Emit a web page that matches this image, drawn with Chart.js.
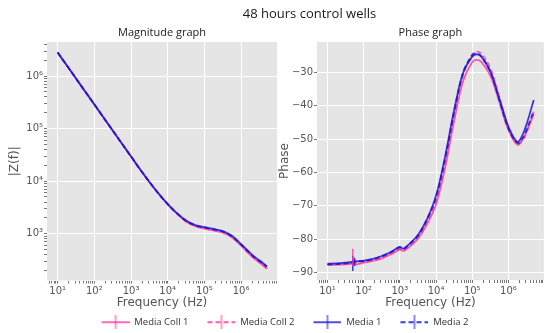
<!DOCTYPE html>
<html>
<head>
<meta charset="utf-8">
<title>48 hours control wells</title>
<script src="https://cdn.jsdelivr.net/npm/chart.js@4.4.1/dist/chart.umd.min.js"></script>
<style>
  html, body { margin: 0; padding: 0; background: #fff; overflow: hidden; }
  #wrap { position: relative; width: 545px; height: 333px; overflow: hidden; }
  #magChart { position: absolute; left: 0; top: 0; }
  #phaseChart { position: absolute; left: 74px; top: 0; }
</style>
</head>
<body>
<div id="wrap">
  <canvas id="magChart" width="558" height="337"></canvas>
  <canvas id="phaseChart" width="471" height="310"></canvas>
</div>
<script>
// Frequency sweep (Hz)
const freq = [10, 18, 32, 50, 56, 100, 178, 316, 562, 800, 1000, 1260, 1780, 3160, 5620,
    10000, 17800, 31600, 56200, 100000, 133000, 178000, 316000, 562000, 1000000,
    1780000, 2510000, 3160000, 5000000];

// |Z(f)| in ohms
const magColl1 = [2.83e6, 1.59e6, 8.95e5, 5.75e5, 5.15e5, 2.90e5, 1.63e5, 9.25e4, 5.23e4, 3.69e4,
    2.96e4, 2.35e4, 1.67e4, 9600, 5780, 3630, 2400, 1690, 1385, 1245, 1195, 1150, 1050, 850,
    590, 390, 318, 282, 214];
const magColl2 = [2.82e6, 1.58e6, 8.90e5, 5.72e5, 5.12e5, 2.89e5, 1.625e5, 9.20e4, 5.21e4, 3.68e4,
    2.955e4, 2.345e4, 1.665e4, 9620, 5800, 3650, 2420, 1720, 1420, 1280, 1230, 1180, 1075, 875,
    605, 400, 328, 292, 226];
const magMedia1 = [2.80e6, 1.57e6, 8.87e5, 5.70e5, 5.10e5, 2.87e5, 1.62e5, 9.18e4, 5.20e4, 3.67e4,
    2.95e4, 2.34e4, 1.66e4, 9660, 5820, 3670, 2455, 1780, 1460, 1333, 1280, 1230, 1120, 912,
    631, 427, 347, 309, 240];
const magMedia2 = [2.81e6, 1.575e6, 8.90e5, 5.71e5, 5.11e5, 2.88e5, 1.62e5, 9.20e4, 5.20e4, 3.67e4,
    2.95e4, 2.34e4, 1.66e4, 9640, 5810, 3660, 2445, 1765, 1445, 1315, 1260, 1210, 1100, 895,
    620, 418, 338, 302, 236];

// Phase in degrees
const phaseColl1 = [-87.7, -87.6, -87.5, -87.3, -87.6, -87.0, -86.5, -85.7, -84.5, -83.6,
    -83.1, -83.5, -82.4, -79.8, -75.5, -69.5, -58.5, -44.5, -32.5, -26.9, -26.3, -26.9,
    -31.0, -39.0, -47.3, -51.7, -50.0, -47.8, -42.5];
const phaseColl2 = [-87.6, -87.5, -87.3, -87.1, -87.2, -86.8, -86.3, -85.5, -84.3, -83.4,
    -82.9, -83.3, -82.1, -79.4, -74.8, -68.5, -57.0, -43.0, -30.6, -24.6, -23.8, -24.4,
    -28.8, -37.5, -46.5, -51.5, -50.2, -48.0, -41.8];
const phaseMedia1 = [-87.3, -87.2, -87.0, -86.8, -86.7, -86.4, -85.9, -85.0, -83.8, -82.8,
    -82.3, -82.8, -81.5, -78.7, -74.0, -66.9, -55.2, -41.3, -30.1, -25.3, -24.6, -25.3,
    -29.8, -37.9, -46.3, -50.8, -48.5, -45.6, -38.3];
const phaseMedia2 = [-87.5, -87.4, -87.2, -87.0, -86.6, -86.5, -86.0, -85.1, -83.9, -82.9,
    -82.4, -82.9, -81.6, -78.9, -74.0, -67.4, -55.8, -41.8, -30.0, -24.9, -24.3, -25.2,
    -29.8, -38.3, -46.9, -51.2, -49.6, -47.3, -41.5];

// Error bars on the phase around the 50 Hz mains glitch
const errSeries = ['Media Coll 1', 'Media 1', 'Media 2'];
const errFreq = [50, 50, 56];
const errLow = [-88.0, -89.5, -88.0];
const errHigh = [-82.8, -85.0, -85.5];

// Tick labels
const freqTicks = [10, 100, 1000, 10000, 100000, 1000000];
const magTicks = [1000, 10000, 100000, 1000000];
const phaseTicks = [-90, -80, -70, -60, -50, -40, -30];

const PINK = 'rgba(255, 51, 153, 0.8)';
const BLUE = 'rgba(25, 25, 215, 0.85)';

const series = [
    { label: 'Media Coll 1', color: PINK, dash: [], mag: magColl1, phase: phaseColl1 },
    { label: 'Media Coll 2', color: PINK, dash: [5, 3], mag: magColl2, phase: phaseColl2 },
    { label: 'Media 1', color: BLUE, dash: [], mag: magMedia1, phase: phaseMedia1 },
    { label: 'Media 2', color: BLUE, dash: [5, 3], mag: magMedia2, phase: phaseMedia2 }
];

Chart.defaults.font.family = 'DejaVu Sans';
Chart.defaults.animation = false;

const SUP = { '0': '⁰', '1': '¹', '2': '²', '3': '³', '4': '⁴', '5': '⁵', '6': '⁶', '7': '⁷', '8': '⁸', '9': '⁹' };
function pow10Label(v) {
    const e = Math.round(Math.log10(v));
    return '10' + String(e).split('').map(d => SUP[d]).join('');
}

function isDecade(tick) {
    if (!tick) return false;
    const l = Math.log10(tick.value);
    return Math.abs(l - Math.round(l)) < 1e-9;
}

// major + minor (2..9) ticks for log axes
function logTicks(scale) {
    const ticks = [];
    const lo = Math.floor(Math.log10(scale.min));
    const hi = Math.ceil(Math.log10(scale.max));
    for (let e = lo; e <= hi; e++) {
        for (let k = 1; k < 10; k++) {
            const v = k * Math.pow(10, e);
            if (v >= scale.min && v <= scale.max) ticks.push({ value: v });
        }
    }
    scale.ticks = ticks;
}

// legend handle: line with a vertical error-bar tick
function legendHandle(color, dash) {
    const c = document.createElement('canvas');
    c.width = 40;
    c.height = 14;
    const g = c.getContext('2d');
    g.strokeStyle = color;
    g.lineWidth = 1.8;
    g.setLineDash(dash);
    g.beginPath();
    g.moveTo(12, 7);
    g.lineTo(40, 7);
    g.stroke();
    g.setLineDash([]);
    g.lineWidth = 1.2;
    g.beginPath();
    g.moveTo(26, 0);
    g.lineTo(26, 14);
    g.stroke();
    return c;
}

const panelBg = {
    id: 'panelBg',
    beforeDraw(chart) {
        const { ctx, chartArea: a } = chart;
        ctx.save();
        ctx.fillStyle = '#e5e5e5';
        ctx.fillRect(a.left, a.top, a.width, a.height);
        ctx.restore();
    }
};

const tickFont = { size: 10 };
const titleFont = { family: 'Open Sans', size: 11, weight: 'normal' };

function freqAxis() {
    return {
        type: 'logarithmic',
        min: 5.13,
        max: 9.5e6,
        afterBuildTicks: logTicks,
        afterFit: s => { s.height = 30; },
        ticks: {
            autoSkip: false,
            maxRotation: 0,
            padding: 2,
            color: '#555',
            font: tickFont,
            callback: v => freqTicks.includes(v) ? pow10Label(v) : ''
        },
        grid: {
            color: c => isDecade(c.tick) ? '#ffffff' : 'rgba(0,0,0,0)',
            tickColor: '#777',
            tickLength: 3,
            lineWidth: 1
        },
        border: { display: false },
        title: { display: true, text: 'Frequency (Hz)', color: '#555', font: { size: 12 }, padding: { top: 0, bottom: 0 } }
    };
}

function lineDataset(s, i, values) {
    return {
        label: s.label,
        data: freq.map((f, j) => ({ x: f, y: values[j] })),
        borderColor: s.color,
        borderDash: s.dash,
        borderWidth: 1.8,
        pointRadius: 0,
        pointStyle: legendHandle(s.color, s.dash),
        tension: 0.35,
        order: series.length - i
    };
}

// Magnitude graph (also carries the shared legend)
const magCtx = document.getElementById('magChart');
if (magCtx) {
    new Chart(magCtx, {
        type: 'line',
        data: {
            datasets: series.map((s, i) => lineDataset(s, i, s.mag))
        },
        options: {
            responsive: false,
            events: [],
            layout: { padding: 0 },
            plugins: {
                title: {
                    display: true,
                    text: 'Magnitude graph',
                    fullSize: false,
                    color: '#222',
                    font: titleFont,
                    padding: { top: 26.4, bottom: 2.4 }
                },
                legend: {
                    position: 'bottom',
                    labels: {
                        usePointStyle: true,
                        pointStyleWidth: 40,
                        padding: 7,
                        color: '#333',
                        font: { family: 'Open Sans', size: 9.5 },
                        sort: (a, b) => a.datasetIndex - b.datasetIndex
                    }
                },
                tooltip: { enabled: false }
            },
            scales: {
                x: freqAxis(),
                y: {
                    type: 'logarithmic',
                    min: 128.5,
                    max: 4.453e6,
                    afterBuildTicks: logTicks,
                    afterFit: s => { s.width = 47; },
                    ticks: {
                        autoSkip: false,
                        padding: 1,
                        color: '#555',
                        font: tickFont,
                        callback: v => magTicks.includes(v) ? pow10Label(v) : ''
                    },
                    grid: {
                        color: c => isDecade(c.tick) ? '#ffffff' : 'rgba(0,0,0,0)',
                        tickColor: '#777',
                        tickLength: 3,
                        lineWidth: 1
                    },
                    border: { display: false },
                    title: { display: true, text: '|Z(f)|', color: '#555', font: { size: 12 }, padding: { top: 8, bottom: 0 } }
                },
                // room for the phase panel on the right
                pad: {
                    axis: 'y',
                    type: 'linear',
                    position: 'right',
                    grid: { display: false },
                    border: { display: false },
                    ticks: { display: false },
                    afterFit: s => { s.width = 281; }
                }
            }
        },
        plugins: [panelBg]
    });
}

// Phase graph (also carries the figure title)
const phaseCtx = document.getElementById('phaseChart');
if (phaseCtx) {
    const errorBars = errSeries.map((name, k) => {
        const s = series.find(d => d.label === name);
        return {
            label: name + ' error',
            data: [{ x: errFreq[k], y: errLow[k] }, { x: errFreq[k], y: errHigh[k] }],
            borderColor: s.color,
            borderWidth: 1.5,
            pointRadius: 0,
            order: 0
        };
    });

    new Chart(phaseCtx, {
        type: 'line',
        data: {
            datasets: series.map((s, i) => lineDataset(s, i, s.phase)).concat(errorBars)
        },
        options: {
            responsive: false,
            events: [],
            layout: { padding: 0 },
            plugins: {
                title: {
                    display: true,
                    text: '48 hours control wells',
                    color: '#1a1a1a',
                    font: { family: 'Open Sans', size: 13, weight: 'normal' },
                    padding: { top: 6.7, bottom: 4.1 }
                },
                subtitle: {
                    display: true,
                    text: 'Phase graph',
                    fullSize: false,
                    color: '#222',
                    font: titleFont,
                    padding: { top: 0, bottom: 2.4 }
                },
                legend: { display: false },
                tooltip: { enabled: false }
            },
            scales: {
                x: freqAxis(),
                y: {
                    type: 'linear',
                    min: -92.19,
                    max: -20.93,
                    weight: 0,
                    afterBuildTicks: s => { s.ticks = phaseTicks.map(v => ({ value: v })); },
                    afterFit: s => { s.width = 47; },
                    ticks: {
                        autoSkip: false,
                        padding: 1,
                        color: '#555',
                        font: tickFont,
                        callback: v => '\u2212' + Math.abs(v)
                    },
                    grid: { color: '#ffffff', tickColor: '#777', tickLength: 3, lineWidth: 1 },
                    border: { display: false },
                    title: { display: true, text: 'Phase', color: '#555', font: { size: 12 }, padding: { top: 8, bottom: 0 } }
                },
                // gap between the two panels
                gap: {
                    axis: 'y',
                    type: 'linear',
                    position: 'left',
                    weight: 1,
                    grid: { display: false },
                    border: { display: false },
                    ticks: { display: false },
                    afterFit: s => { s.width = 196; }
                }
            }
        },
        plugins: [panelBg]
    });
}
</script>
</body>
</html>
